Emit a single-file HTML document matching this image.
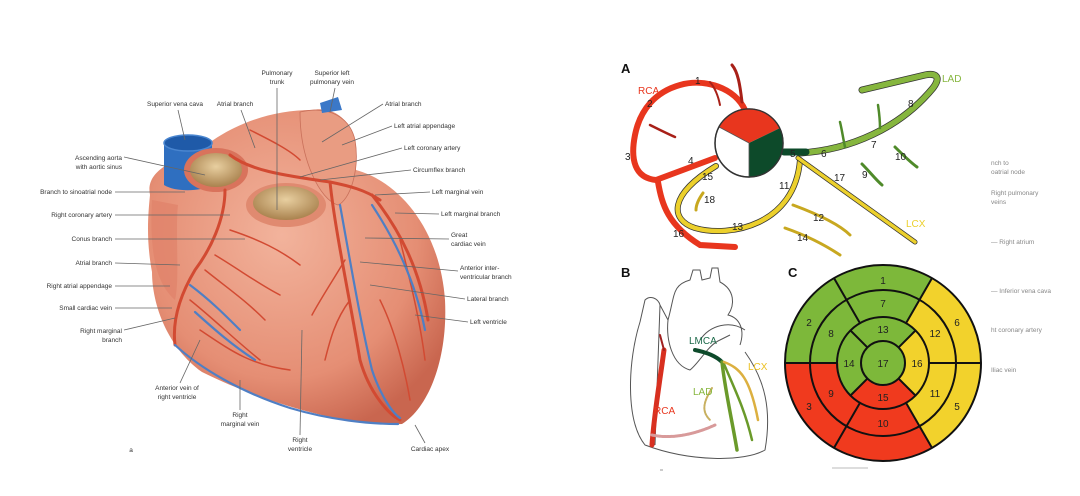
<!DOCTYPE html>
<html><head><meta charset="utf-8"><style>
html,body{margin:0;padding:0;background:#fff;}
svg{display:block;font-family:"Liberation Sans",sans-serif;}
.l{font-size:6.5px;fill:#333;}
.g{stroke:#666;stroke-width:0.8;fill:none;}
.n{font-size:10px;fill:#222;}
.f{font-size:6.5px;fill:#888;}
</style></head><body>
<svg width="1080" height="496" viewBox="0 0 1080 496">
<defs>
<radialGradient id="hg" cx="0.45" cy="0.4" r="0.65">
<stop offset="0" stop-color="#f2b39c"/><stop offset="0.7" stop-color="#e58e74"/><stop offset="1" stop-color="#c9664f"/>
</radialGradient>
<radialGradient id="op" cx="0.5" cy="0.4" r="0.6"><stop offset="0" stop-color="#e8cfa0"/><stop offset="1" stop-color="#a9824e"/></radialGradient>
</defs>
<rect width="1080" height="496" fill="#fff"/>

<!-- LEFT HEART -->
<path d="M150,195 C145,170 175,160 200,150 C230,125 270,110 312,110 C332,106 348,118 352,135 L356,170 C400,182 440,230 445,300 C448,360 428,408 402,424 C350,428 262,402 202,372 C168,348 152,305 152,272 C146,240 148,215 150,195 Z" fill="url(#hg)"/>
<path d="M300,112 C330,105 350,118 355,140 C360,170 350,200 338,205 C320,200 300,160 300,112 Z" fill="#e99c82" stroke="#c9705a" stroke-width="0.8"/>
<path d="M152,200 C150,240 152,280 175,300 C180,280 175,230 178,205 Z" fill="#e0826a" opacity="0.7"/>
<!-- SVC -->
<path d="M164,143 L164,185 C175,192 200,192 212,185 L212,143 Z" fill="#2f6fc0"/>
<ellipse cx="188" cy="143" rx="24" ry="8" fill="#1f5aa8" stroke="#4a86d0" stroke-width="1.5"/>
<path d="M320,103 L338,97 L342,110 L322,113 Z" fill="#3b78c8"/>
<!-- aorta -->
<ellipse cx="216" cy="170" rx="32" ry="22" fill="#d9735c"/>
<ellipse cx="216" cy="170" rx="26" ry="17" fill="url(#op)"/>
<ellipse cx="286" cy="205" rx="40" ry="22" fill="#e08a70"/>
<ellipse cx="286" cy="203" rx="33" ry="17" fill="url(#op)"/>
<!-- arteries -->
<g fill="none" stroke="#d24a32" stroke-width="3" stroke-linecap="round">
<path d="M230,155 C250,170 280,175 330,182 C350,186 365,190 380,200"/>
<path d="M330,182 C335,230 350,300 360,360 C370,395 390,415 400,420"/>
<path d="M225,190 C225,220 210,250 195,270 C180,295 172,320 175,345"/>
<path d="M372,195 C400,230 420,270 428,320"/>
</g>
<g fill="none" stroke="#d24a32" stroke-width="1.5" stroke-linecap="round">
<path d="M205,270 C230,290 245,300 265,320"/><path d="M215,255 C240,270 260,285 280,295"/>
<path d="M190,300 C215,320 235,340 260,360"/><path d="M200,330 C230,350 250,365 290,370"/>
<path d="M345,260 C330,285 320,300 312,315"/><path d="M350,300 C335,320 330,340 325,360"/>
<path d="M250,130 C270,140 290,150 300,160"/><path d="M230,230 C260,240 280,250 300,265"/>
<path d="M400,240 C410,280 420,320 425,360"/><path d="M380,300 C395,330 405,370 410,400"/>
</g>
<g fill="none" stroke="#4f7fc4" stroke-width="2.2" stroke-linecap="round">
<path d="M340,205 C350,260 360,320 372,370 C382,400 395,415 400,418"/>
<path d="M372,205 C395,240 415,280 425,330"/>
<path d="M175,345 C200,368 240,392 290,408 C330,420 370,424 398,424"/>
<path d="M190,285 C210,300 225,315 240,330"/><path d="M195,312 C215,330 232,345 255,360"/>
</g>
<!-- left labels -->
<g class="l" text-anchor="end">
<text x="122" y="160">Ascending aorta</text><text x="122" y="169">with aortic sinus</text>
<text x="112" y="194">Branch to sinoatrial node</text>
<text x="112" y="217">Right coronary artery</text>
<text x="112" y="241">Conus branch</text>
<text x="112" y="265">Atrial branch</text>
<text x="112" y="288">Right atrial appendage</text>
<text x="112" y="310">Small cardiac vein</text>
<text x="122" y="333">Right marginal</text><text x="122" y="342">branch</text>
</g>
<g class="l" text-anchor="middle">
<text x="175" y="106">Superior vena cava</text>
<text x="235" y="106">Atrial branch</text>
<text x="277" y="75">Pulmonary</text><text x="277" y="84">trunk</text>
<text x="332" y="75">Superior left</text><text x="332" y="84">pulmonary vein</text>
<text x="177" y="390">Anterior vein of</text><text x="177" y="399">right ventricle</text>
<text x="240" y="417">Right</text><text x="240" y="426">marginal vein</text>
<text x="300" y="442">Right</text><text x="300" y="451">ventricle</text>
<text x="430" y="451">Cardiac apex</text>
<text x="131" y="452">a</text>
</g>
<g class="l">
<text x="385" y="106">Atrial branch</text>
<text x="394" y="128">Left atrial appendage</text>
<text x="404" y="150">Left coronary artery</text>
<text x="413" y="172">Circumflex branch</text>
<text x="432" y="194">Left marginal vein</text>
<text x="441" y="216">Left marginal branch</text>
<text x="451" y="237">Great</text><text x="451" y="246">cardiac vein</text>
<text x="460" y="270">Anterior inter-</text><text x="460" y="279">ventricular branch</text>
<text x="467" y="301">Lateral branch</text>
<text x="470" y="324">Left ventricle</text>
</g>
<g class="g">
<path d="M124,157 L205,175"/><path d="M115,192 L185,192"/><path d="M115,215 L230,215"/>
<path d="M115,239 L245,239"/><path d="M115,263 L180,265"/><path d="M115,286 L170,286"/>
<path d="M115,308 L172,308"/><path d="M124,330 L175,318"/>
<path d="M178,110 L185,140"/><path d="M241,110 L255,148"/><path d="M277,88 L277,210"/>
<path d="M335,88 L330,112"/><path d="M383,104 L322,142"/><path d="M392,126 L342,145"/>
<path d="M402,148 L300,177"/><path d="M411,170 L320,180"/><path d="M430,192 L375,195"/>
<path d="M439,214 L395,213"/><path d="M449,239 L365,238"/><path d="M458,271 L360,262"/>
<path d="M465,299 L370,285"/><path d="M468,322 L415,315"/>
<path d="M180,383 L200,340"/><path d="M240,410 L240,380"/><path d="M300,435 L302,330"/><path d="M425,443 L415,425"/>
</g>

<!-- Faint right labels -->
<g class="f">
<text x="991" y="165">nch to</text><text x="991" y="174">oatrial node</text>
<text x="991" y="195">Right pulmonary</text><text x="991" y="204">veins</text>
<text x="991" y="244">—  Right atrium</text>
<text x="991" y="293">—  Inferior vena cava</text>
<text x="991" y="332">ht coronary artery</text>
<text x="991" y="372">Iliac vein</text>
</g>

<!-- PANEL A -->
<text x="621" y="73" font-size="13" font-weight="bold" fill="#111">A</text>
<!-- RCA -->
<g fill="none" stroke-linecap="round">
<path d="M745,110 C735,88 705,78 680,85 C655,92 640,110 635,135 C630,160 635,178 656,180 L715,158" stroke="#e8361e" stroke-width="6"/>
<path d="M658,182 C662,205 668,225 700,245 L735,247" stroke="#e8361e" stroke-width="6"/>
<path d="M742,102 C740,85 738,72 732,65" stroke="#a82018" stroke-width="3"/>
<path d="M720,105 C718,95 715,88 710,82" stroke="#a82018" stroke-width="2"/>
<path d="M650,125 C660,130 668,134 675,137" stroke="#a82018" stroke-width="2.5"/>
<!-- yellow -->
<path d="M800,160 C795,225 730,238 695,228 C670,220 668,195 716,166" stroke="#333" stroke-width="6"/>
<path d="M800,160 C795,225 730,238 695,228 C670,220 668,195 716,166" stroke="#ecd02c" stroke-width="4.5"/>
<path d="M798,158 L915,242" stroke="#333" stroke-width="5"/>
<path d="M798,158 L915,242" stroke="#ecd02c" stroke-width="3.5"/>
<path d="M793,205 C820,215 840,225 850,235" stroke="#c8a820" stroke-width="3"/>
<path d="M785,228 C805,235 825,245 840,255" stroke="#c8a820" stroke-width="3"/>
<path d="M703,193 C698,200 696,205 696,210" stroke="#c8a820" stroke-width="3"/>
<!-- LAD -->
<path d="M800,153 C850,150 900,128 933,88 C942,76 935,73 925,75 L862,90" stroke="#333" stroke-width="7"/>
<path d="M800,153 C850,150 900,128 933,88 C942,76 935,73 925,75 L862,90" stroke="#86b63e" stroke-width="5.5"/>
<path d="M862,164 C870,172 876,180 882,185" stroke="#4f8a2a" stroke-width="3"/>
<path d="M895,147 C903,155 910,162 917,167" stroke="#4f8a2a" stroke-width="3"/>
<path d="M845,147 C843,138 842,130 840,122" stroke="#4f8a2a" stroke-width="2.5"/>
<path d="M880,128 C880,118 879,112 878,105" stroke="#4f8a2a" stroke-width="2.5"/>
<path d="M784,152 L806,152" stroke="#0d4a2a" stroke-width="7"/>
</g>
<circle cx="749" cy="143" r="34" fill="#fff" stroke="#333" stroke-width="1.5"/>
<path d="M749,143 L719,127 A34,34 0 0 1 780,128 Z" fill="#e8361e"/>
<path d="M749,143 L780,128 A34,34 0 0 1 749,177 Z" fill="#0d4a2a"/>
<path d="M749,143 L719,127 M749,143 L749,177" stroke="#555" stroke-width="0.8"/>
<circle cx="749" cy="143" r="34" fill="none" stroke="#333" stroke-width="1.2"/>
<g class="n">
<text x="638" y="94" fill="#e8361e" font-size="10">RCA</text>
<text x="695" y="84">1</text><text x="647" y="107">2</text><text x="625" y="160">3</text>
<text x="688" y="164">4</text><text x="702" y="180">15</text><text x="704" y="203">18</text>
<text x="673" y="237">16</text><text x="732" y="230">13</text><text x="797" y="241">14</text>
<text x="813" y="221">12</text><text x="779" y="189">11</text><text x="834" y="181">17</text>
<text x="862" y="178">9</text><text x="895" y="160">10</text><text x="871" y="148">7</text>
<text x="908" y="107">8</text><text x="821" y="157">6</text><text x="790" y="157">5</text>
<text x="942" y="82" fill="#86b63e">LAD</text><text x="906" y="227" fill="#ecd02c">LCX</text>
</g>

<!-- PANEL B -->
<text x="621" y="277" font-size="13" font-weight="bold" fill="#111">B</text>
<g fill="none" stroke="#555" stroke-width="1">
<path d="M640,322 C628,360 625,420 645,445 C690,462 745,462 765,450 C772,410 765,380 745,352"/>
<path d="M640,322 L645,300 C650,295 658,298 660,305 L655,445"/>
<path d="M660,305 L668,320 C675,295 672,285 690,280 L693,270 L700,270 L702,280 L710,278 L712,268 L718,268 L720,282 C735,290 735,305 728,315 C740,318 745,330 740,345"/>
<path d="M668,320 C666,340 672,365 690,370 C700,362 708,345 720,340 L730,335"/>
<path d="M700,340 C710,325 730,320 745,330"/>
</g>
<g fill="none" stroke-linecap="round">
<path d="M664,350 C660,380 654,415 652,445" stroke="#d83020" stroke-width="5"/>
<path d="M660,335 L664,350" stroke="#a02020" stroke-width="2"/>
<path d="M652,435 C675,440 700,432 715,425" stroke="#d89a9a" stroke-width="3" stroke-dasharray="2,1"/>
<path d="M695,350 C705,352 715,355 722,362" stroke="#0d4a2a" stroke-width="4"/>
<path d="M722,362 C725,390 732,420 737,450" stroke="#6a9a2a" stroke-width="3.5"/>
<path d="M724,364 C735,390 745,410 752,440" stroke="#6a9a2a" stroke-width="2.5"/>
<path d="M724,362 C740,368 750,378 758,420" stroke="#dcb040" stroke-width="2.5"/>
<path d="M712,388 C705,400 700,410 710,420" stroke="#c8b060" stroke-width="2" stroke-dasharray="2,1"/>
</g>
<g font-size="10">
<text x="689" y="344" fill="#1d6a4a">LMCA</text>
<text x="748" y="370" fill="#ecc020">LCX</text>
<text x="693" y="395" fill="#86b63e">LAD</text>
<text x="654" y="414" fill="#e8361e">RCA</text>
</g>

<!-- PANEL C -->
<text x="788" y="277" font-size="13" font-weight="bold" fill="#111">C</text>
<path d="M883,363 L932,278.1 A98,98 0 0 0 785,363 Z" fill="#7db83a"/>
<path d="M883,363 L785,363 A98,98 0 0 0 932,447.9 Z" fill="#f03a1e"/>
<path d="M883,363 L932,447.9 A98,98 0 0 0 932,278.1 Z" fill="#f2d22c"/>
<path d="M883,363 L915.5,330.5 A46,46 0 0 0 850.5,395.5 Z" fill="#7db83a"/>
<path d="M883,363 L850.5,395.5 A46,46 0 0 0 915.5,395.5 Z" fill="#f03a1e"/>
<path d="M883,363 L915.5,395.5 A46,46 0 0 0 915.5,330.5 Z" fill="#f2d22c"/>
<circle cx="883" cy="363" r="22" fill="#7db83a"/>
<g fill="none" stroke="#111" stroke-width="2">
<circle cx="883" cy="363" r="98"/><circle cx="883" cy="363" r="73"/>
<circle cx="883" cy="363" r="46"/><circle cx="883" cy="363" r="22"/>
<path d="M929,363 L981,363 M906,323.2 L932,278.1 M860,323.2 L834,278.1 M837,363 L785,363 M860,402.8 L834,447.9 M906,402.8 L932,447.9"/>
<path d="M898.6,347.4 L915.5,330.5 M867.4,347.4 L850.5,330.5 M867.4,378.6 L850.5,395.5 M898.6,378.6 L915.5,395.5"/>
</g>
<g class="n" text-anchor="middle" font-size="11">
<text x="883" y="284">1</text><text x="809" y="326">2</text><text x="809" y="410">3</text>
<text x="957" y="410">5</text><text x="957" y="326">6</text>
<text x="883" y="307">7</text><text x="831" y="337">8</text><text x="831" y="397">9</text>
<text x="883" y="427">10</text><text x="935" y="397">11</text><text x="935" y="337">12</text>
<text x="883" y="333">13</text><text x="849" y="367">14</text><text x="883" y="401">15</text>
<text x="917" y="367">16</text><text x="883" y="367">17</text>
</g>
<path d="M832,468 L868,468" stroke="#bbb" stroke-width="1"/>
<path d="M660,470 L663,470" stroke="#999" stroke-width="1"/>
</svg>
</body></html>
